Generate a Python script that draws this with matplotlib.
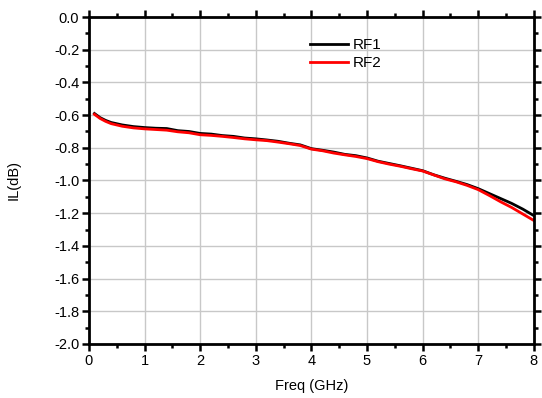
import numpy as np
import matplotlib.pyplot as plt
from matplotlib.ticker import MultipleLocator

plt.rcParams['font.family'] = ['Liberation Sans', 'DejaVu Sans']

# 频率 (GHz)
freq = [0.1, 0.2, 0.3, 0.4, 0.6, 0.8, 1.0, 1.2, 1.4, 1.6, 1.8, 2.0, 2.2, 2.4,
        2.6, 2.8, 3.0, 3.2, 3.4, 3.6, 3.8, 4.0, 4.2, 4.4, 4.6, 4.8, 5.0, 5.2,
        5.4, 5.6, 5.8, 6.0, 6.2, 6.4, 6.6, 6.8, 7.0, 7.2, 7.4, 7.6, 7.8, 8.0]

# 插入损耗 (dB)
rf1 = [-0.59, -0.615, -0.632, -0.645, -0.66, -0.67, -0.676, -0.68, -0.682,
       -0.695, -0.70, -0.712, -0.716, -0.725, -0.73, -0.74, -0.745, -0.752,
       -0.76, -0.772, -0.782, -0.805, -0.815, -0.826, -0.84, -0.848, -0.862,
       -0.882, -0.896, -0.91, -0.925, -0.94, -0.965, -0.986, -1.005, -1.025,
       -1.05, -1.08, -1.11, -1.14, -1.175, -1.215]
rf2 = [-0.595, -0.62, -0.638, -0.652, -0.668, -0.678, -0.684, -0.688, -0.692,
       -0.702, -0.708, -0.72, -0.724, -0.73, -0.737, -0.745, -0.751, -0.756,
       -0.765, -0.775, -0.786, -0.808, -0.818, -0.832, -0.843, -0.853, -0.866,
       -0.885, -0.90, -0.913, -0.928, -0.942, -0.966, -0.99, -1.008, -1.03,
       -1.056, -1.092, -1.13, -1.165, -1.205, -1.245]

fig = plt.figure(figsize=(5.42, 3.98), dpi=100)
ax = fig.add_axes([0.164, 0.136, 0.821, 0.821])

ax.plot(freq, rf1, color='black', lw=2, label='RF1')
ax.plot(freq, rf2, color='red', lw=2, label='RF2')

ax.set_xlim(0, 8)
ax.set_ylim(-2.0, 0.0)
ax.xaxis.set_major_locator(MultipleLocator(1))
ax.xaxis.set_minor_locator(MultipleLocator(0.5))
ax.yaxis.set_major_locator(MultipleLocator(0.2))
ax.yaxis.set_minor_locator(MultipleLocator(0.1))
ax.yaxis.set_major_formatter(plt.FuncFormatter(lambda v, p: '%.1f' % v))

ax.grid(True, which='major', color='#c8c8c8', lw=1)
ax.set_axisbelow(True)
for s in ax.spines.values():
    s.set_linewidth(2)

ax.tick_params(which='both', direction='out', width=1.8, labelsize=10.5,
               top=True, right=True)
ax.tick_params(which='major', length=5)
ax.tick_params(which='minor', length=3)
ax.tick_params(axis='x', which='both', top=True, labeltop=False)
ax.tick_params(axis='both', which='major', pad=2)

ax.set_xlabel('Freq (GHz)', fontsize=10.5, labelpad=8)
ax.set_ylabel('IL(dB)', fontsize=10.5, labelpad=24)

ax.legend(loc='upper left', bbox_to_anchor=(0.497, 0.935), frameon=False,
          fontsize=11, handlelength=2.5, handletextpad=0.3,
          labelspacing=0.25, borderpad=0, borderaxespad=0)

plt.savefig('out.png', dpi=100)
